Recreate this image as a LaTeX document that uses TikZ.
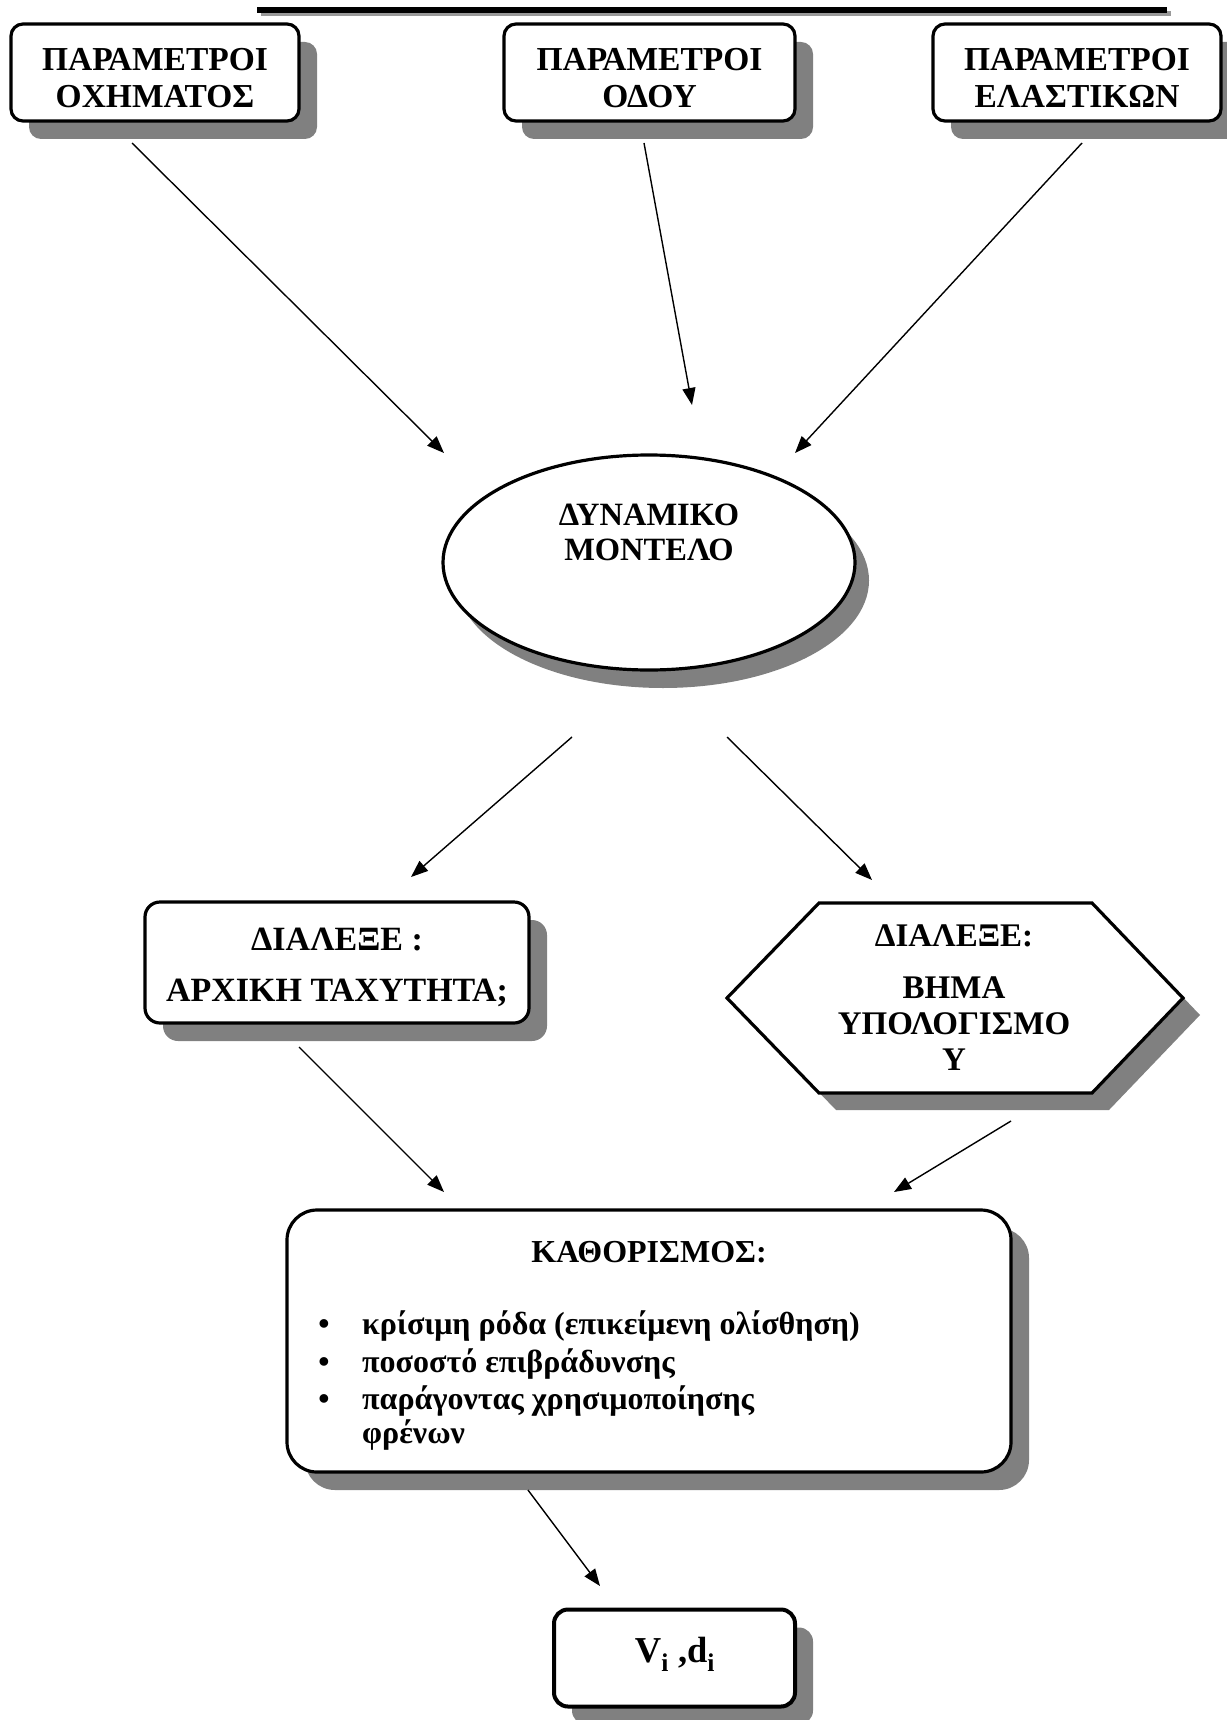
\documentclass[tikz,border=0pt]{standalone}
\usepackage{fontspec}
\setmainfont{Liberation Serif}
\usetikzlibrary{arrows.meta,shadows,shapes.geometric}
\tikzset{
  shade gray/.style={fill=black!50},
  box/.style={draw, line width=3.2pt, fill=white, rounded corners=12pt, inner sep=0pt, align=center,
    general shadow={shade gray, shadow xshift=18pt, shadow yshift=-18pt}},
  ellbox/.style={draw, ellipse, line width=3.2pt, fill=white, inner sep=0pt,
    general shadow={shade gray, shadow xshift=14pt, shadow yshift=-18pt}},
  txt/.style={inner sep=0pt, align=center, font=\bfseries\fontsize{33}{37}\selectfont},
  btxt/.style={inner sep=0pt, anchor=base west, font=\bfseries\fontsize{32}{36}\selectfont},
  bul/.style={inner sep=0pt, anchor=base, font=\bfseries\fontsize{32}{36}\selectfont},
  conn/.style={line width=1.4pt, -{Triangle[length=17pt,width=13pt]}},
  hexline/.style={draw, line width=3.2pt, fill=white, line join=miter}
}
\begin{document}
\begin{tikzpicture}[x=1pt,y=-1pt]
\useasboundingbox (0,0) rectangle (1226,1720);

% top rule
\draw[black!40, line width=5pt] (261,14) -- (1171,14);
\draw[line width=6pt] (257,10) -- (1167,10);

% top boxes
\node[box, minimum width=288pt, minimum height=97pt] (p1) at (155,72.5) {};
\node[box, minimum width=291pt, minimum height=97pt] (p2) at (649.5,72.5) {};
\node[box, minimum width=288pt, minimum height=97pt] (p3) at (1077,72.5) {};
\node[txt, font=\bfseries\fontsize{33.5}{37}\selectfont] (p1T) at (155,78) {ΠΑΡΑΜΕΤΡΟΙ\\ΟΧΗΜΑΤΟΣ};
\node[txt, font=\bfseries\fontsize{33.5}{37}\selectfont] (p2T) at (649.5,78) {ΠΑΡΑΜΕΤΡΟΙ\\ΟΔΟΥ};
\node[txt, font=\bfseries\fontsize{33.5}{37}\selectfont] (p3T) at (1077,78) {ΠΑΡΑΜΕΤΡΟΙ\\ΕΛΑΣΤΙΚΩΝ};

% ellipse
\node[ellbox, minimum width=412pt, minimum height=215pt] (dyn) at (649,562.5) {};
\node[txt, font=\bfseries\fontsize{32.5}{35}\selectfont] (dynT) at (649,532) {ΔΥΝΑΜΙΚΟ\\ΜΟΝΤΕΛΟ};

% left choice box
\node[box, rounded corners=15pt, minimum width=384pt, minimum height=121pt] (dial) at (337,962.5) {};
\node[txt, font=\bfseries\fontsize{34}{37}\selectfont] (dialT) at (337,967) {ΔΙΑΛΕΞΕ :\\[14pt]ΑΡΧΙΚΗ ΤΑΧΥΤΗΤΑ;};

% hexagon
\fill[shade gray, shift={(17,17)}] (727,998) -- (819,903) -- (1092,903) -- (1183,998) -- (1092,1093) -- (819,1093) -- cycle;
\path[hexline] (727,998) -- (819,903) -- (1092,903) -- (1183,998) -- (1092,1093) -- (819,1093) -- cycle;
\node[txt, font=\bfseries\fontsize{33}{36}\selectfont] (hexT) at (954,998) {ΔΙΑΛΕΞΕ:\\[16pt]ΒΗΜΑ\\ΥΠΟΛΟΓΙΣΜΟ\\Υ};

% big box
\node[box, rounded corners=30pt, minimum width=724pt, minimum height=262pt] (kat) at (649,1341) {};
\node[txt, font=\bfseries\fontsize{32}{36}\selectfont] (katT) at (649,1252) {ΚΑΘΟΡΙΣΜΟΣ:};
\node[bul] (k1b) at (324,1334) {•};
\node[btxt] (k1) at (362,1334) {κρίσιμη ρόδα (επικείμενη ολίσθηση)};
\node[bul] (k2b) at (324,1372) {•};
\node[btxt] (k2) at (362,1372) {ποσοστό επιβράδυνσης};
\node[bul] (k3b) at (324,1409) {•};
\node[btxt] (k3) at (362,1409) {παράγοντας χρησιμοποίησης};
\node[btxt] (k4) at (362,1443) {φρένων};

% result box
\node[box, line width=4pt, rounded corners=14pt, minimum width=241pt, minimum height=97pt] (vi) at (674.5,1658) {};
\node[inner sep=0pt, anchor=base, font=\bfseries\fontsize{36.5}{40}\selectfont] (viT) at (675,1662) {V\textsubscript{i} ,d\textsubscript{i}};

% connector end points
\coordinate (a1s) at (132,143);  \coordinate (a1e) at (444,453);
\coordinate (a2s) at (644,143);  \coordinate (a2e) at (692,405);
\coordinate (a3s) at (1082,143); \coordinate (a3e) at (795,453);
\coordinate (a4s) at (572,737);  \coordinate (a4e) at (411,877);
\coordinate (a5s) at (727,737);  \coordinate (a5e) at (872,880);
\coordinate (a6s) at (299,1047); \coordinate (a6e) at (444,1192);
\coordinate (a7s) at (1011,1121);\coordinate (a7e) at (894,1192);
\coordinate (a8s) at (528,1490); \coordinate (a8e) at (600,1586);

\draw[conn] (a1s) -- (a1e);
\draw[conn] (a2s) -- (a2e);
\draw[conn] (a3s) -- (a3e);
\draw[conn] (a4s) -- (a4e);
\draw[conn] (a5s) -- (a5e);
\draw[conn] (a6s) -- (a6e);
\draw[conn] (a7s) -- (a7e);
\draw[conn] (a8s) -- (a8e);
\end{tikzpicture}
\end{document}
